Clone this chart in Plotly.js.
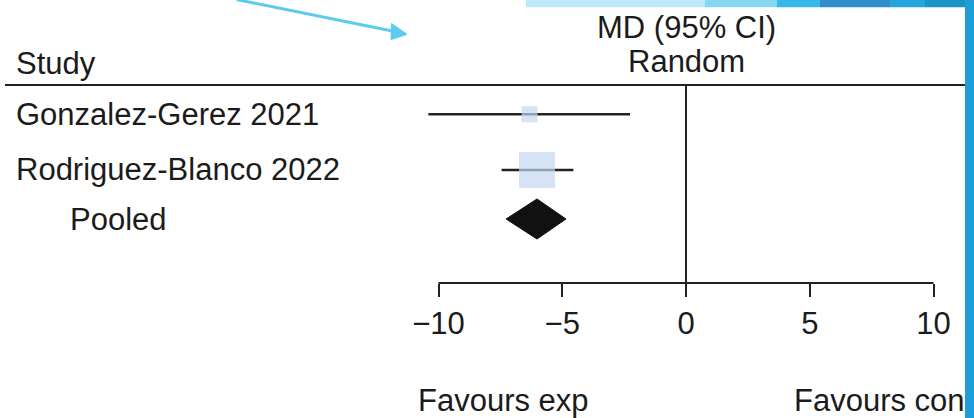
<!DOCTYPE html>
<html>
<head>
<meta charset="utf-8">
<script src="https://cdn.plot.ly/plotly-3.0.1.min.js"></script>
<style>
  html, body { margin: 0; padding: 0; background: #ffffff; }
  #chart { width: 974px; height: 418px; }
</style>
</head>
<body>
<div id="chart"></div>
<script>
// ---- data ----
var studies = ['Gonzalez-Gerez 2021', 'Rodriguez-Blanco 2022'];
var meanDiff = [-6.32, -6.02];
var ciLow = [-10.41, -7.45];
var ciHigh = [-2.26, -4.55];
var weights = [16.5, 83.5];          // % weight (drives square area)
var pooledLabel = 'Pooled';
var pooledMD = -6.02;
var pooledLow = -7.27;
var pooledHigh = -4.85;
var tickValues = [-10, -5, 0, 5, 10];
var headerLeft = 'Study';
var headerRight = ['MD (95% CI)', 'Random'];
var favoursLeft = 'Favours exp';
var favoursRight = 'Favours con';

// ---- layout helpers (positions / styles) ----
var W = 974, H = 418;
function px(x) { return x / W; }
function py(y) { return 1 - y / H; }
var FONT = 'Liberation Sans, Arial, Helvetica, sans-serif';
var TXT = '#1b1b1b';
var FS = 31;
var rowY = [1, 2];
var pooledY = 2.88;
var diamondHalf = 0.36;
var sizeK = 3.94;
var PXU = 24.75, ZERO = 686, XR = 11;

// CI lines
var ciX = [], ciY = [];
for (var i = 0; i < studies.length; i++) {
  ciX.push(ciLow[i], ciHigh[i], null);
  ciY.push(rowY[i], rowY[i], null);
}

var traces = [
  {
    type: 'scatter', mode: 'lines', x: ciX, y: ciY,
    line: { color: '#222222', width: 2.4 }, hoverinfo: 'skip', showlegend: false
  },
  {
    type: 'scatter', mode: 'markers', x: meanDiff, y: rowY, text: studies,
    marker: {
      symbol: 'square',
      size: weights.map(function (w) { return Math.sqrt(w) * sizeK; }),
      color: '#C3D7F1', line: { width: 0 }
    },
    showlegend: false
  },
  {
    type: 'scatter', mode: 'lines',
    x: [pooledLow, pooledMD, pooledHigh, pooledMD, pooledLow],
    y: [pooledY, pooledY - diamondHalf, pooledY, pooledY + diamondHalf, pooledY],
    fill: 'toself', fillcolor: '#111111',
    line: { color: '#111111', width: 1 }, showlegend: false
  }
];

var annotations = [];
function addText(t, x, y, anchor) {
  annotations.push({
    text: t, xref: 'paper', yref: 'paper', x: px(x), y: py(y),
    xanchor: anchor, yanchor: 'middle', showarrow: false,
    font: { family: FONT, size: FS, color: TXT }
  });
}
function addRowText(t, x, yv) {
  annotations.push({
    text: t, xref: 'paper', yref: 'y', x: px(x), y: yv,
    xanchor: 'left', yanchor: 'middle', showarrow: false,
    font: { family: FONT, size: FS, color: TXT }
  });
}
addText(headerLeft, 14, 63, 'left');
addText(headerRight[0], 686, 27.5, 'center');
addText(headerRight[1], 686, 61, 'center');
addRowText(studies[0], 14, rowY[0]);
addRowText(studies[1], 14, rowY[1]);
addRowText(pooledLabel, 68, pooledY);
addText(favoursLeft, 416, 400, 'left');
addText(favoursRight, 792, 400, 'left');

var shapes = [
  // header rule
  { type: 'line', xref: 'paper', yref: 'paper', x0: px(5), x1: px(965), y0: py(85), y1: py(85),
    line: { color: '#222222', width: 2 } },
  // x axis baseline between the outer ticks
  { type: 'line', xref: 'x', yref: 'y domain', x0: tickValues[0], x1: tickValues[tickValues.length - 1],
    y0: 0, y1: 0, line: { color: '#222222', width: 2 } },
  // decorative slide band at top
  { type: 'rect', xref: 'paper', yref: 'paper', x0: px(526), x1: px(705), y0: py(7.3), y1: 1,
    fillcolor: '#BFE8F8', line: { width: 0 }, layer: 'below' },
  { type: 'rect', xref: 'paper', yref: 'paper', x0: px(705), x1: px(777), y0: py(7.3), y1: 1,
    fillcolor: '#86D6F2', line: { width: 0 }, layer: 'below' },
  { type: 'rect', xref: 'paper', yref: 'paper', x0: px(777), x1: px(820), y0: py(7.3), y1: 1,
    fillcolor: '#36B9E8', line: { width: 0 }, layer: 'below' },
  { type: 'rect', xref: 'paper', yref: 'paper', x0: px(820), x1: px(890), y0: py(7.3), y1: 1,
    fillcolor: '#2D8ECB', line: { width: 0 }, layer: 'below' },
  { type: 'rect', xref: 'paper', yref: 'paper', x0: px(890), x1: px(925), y0: py(7.3), y1: 1,
    fillcolor: '#22A6DC', line: { width: 0 }, layer: 'below' },
  { type: 'rect', xref: 'paper', yref: 'paper', x0: px(925), x1: 1, y0: py(7.3), y1: 1,
    fillcolor: '#1A93C6', line: { width: 0 }, layer: 'below' },
  // right strip
  { type: 'rect', xref: 'paper', yref: 'paper', x0: px(965), x1: 1, y0: 0, y1: 1,
    fillcolor: '#1E9DD6', line: { width: 0 }, layer: 'above' },
  // arrow
  { type: 'line', xref: 'paper', yref: 'paper', x0: px(236.7), y0: py(-0.5), x1: px(396), y1: py(31.8),
    line: { color: '#5BCBF0', width: 3 } },
  { type: 'path', xref: 'paper', yref: 'paper',
    path: 'M ' + px(407) + ' ' + py(34.3) + ' L ' + px(391.5) + ' ' + py(23.5) +
          ' L ' + px(391) + ' ' + py(39.5) + ' Z',
    fillcolor: '#5BCBF0', line: { color: '#5BCBF0', width: 1 } }
];

var layout = {
  width: W, height: H,
  margin: { l: 0, r: 0, t: 0, b: 0, pad: 0 },
  paper_bgcolor: '#ffffff', plot_bgcolor: 'rgba(0,0,0,0)',
  showlegend: false,
  xaxis: {
    domain: [px(ZERO - XR * PXU), px(ZERO + XR * PXU)],
    range: [-XR, XR],
    tickvals: tickValues,
    ticks: 'outside', ticklen: 13, tickwidth: 2, tickcolor: '#222222',
    showline: false,
    zeroline: true, zerolinecolor: '#222222', zerolinewidth: 2,
    showgrid: false,
    tickfont: { family: FONT, size: FS, color: TXT },
    fixedrange: true
  },
  yaxis: {
    domain: [py(283), py(85)],
    range: [4.029, 0.474],
    showticklabels: false, showgrid: false, zeroline: false, showline: false, ticks: '',
    fixedrange: true
  },
  annotations: annotations,
  shapes: shapes
};

Plotly.newPlot('chart', traces, layout, { displayModeBar: false, staticPlot: true });
</script>
</body>
</html>
